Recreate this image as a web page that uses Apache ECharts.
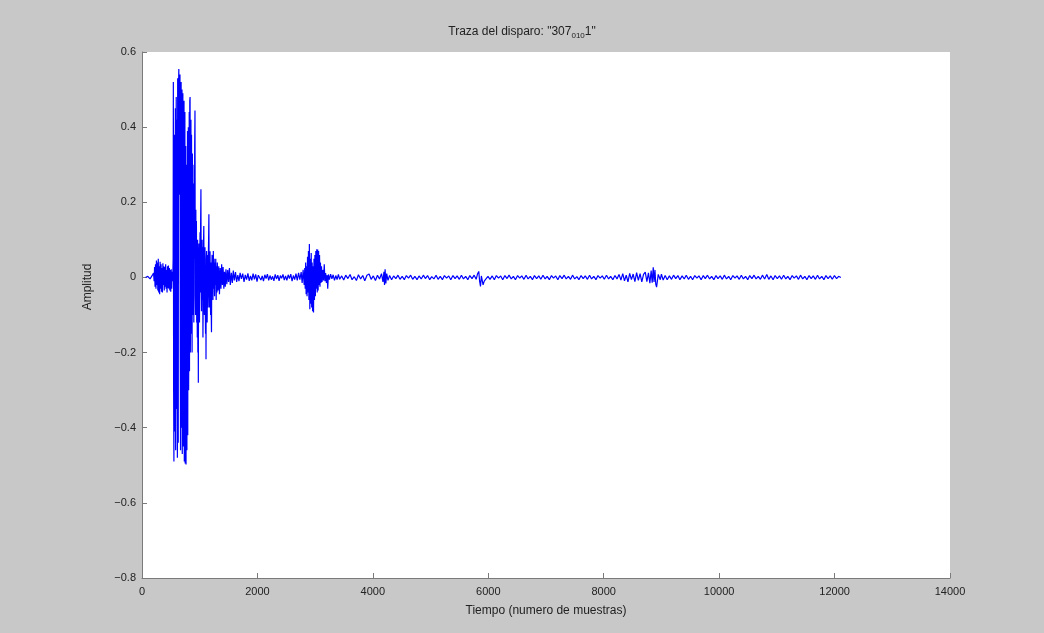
<!DOCTYPE html>
<html>
<head>
<meta charset="utf-8">
<script src="https://cdn.jsdelivr.net/npm/echarts@6/dist/echarts.min.js"></script>
<style>
html,body{margin:0;padding:0;background:#c8c8c8;}
#chart{width:1044px;height:633px;}
</style>
</head>
<body>
<div id="chart"></div>
<script>
// Tick settings
const xTicks = [0, 2000, 4000, 6000, 8000, 10000, 12000, 14000];
const yTicks = [-0.8, -0.6, -0.4, -0.2, 0, 0.2, 0.4, 0.6];

// Trace segments: [sample index, amplitude]
const preEvent = [
  [60, 0.0], [100, 0.003], [140, -0.004], [180, 0.006], [200, 0.012], [210, -0.01],
  [218, 0.028], [226, -0.025], [234, 0.035], [242, -0.03], [250, 0.045], [258, -0.02],
  [266, 0.04], [274, -0.035], [282, 0.05], [290, -0.04], [298, 0.03], [306, -0.045],
  [314, 0.042], [322, -0.03], [330, 0.035], [338, -0.038], [346, 0.025], [354, -0.04],
  [362, 0.038], [370, -0.02], [378, 0.03], [386, -0.035], [394, 0.028], [402, -0.025],
  [410, 0.035], [418, -0.03], [426, 0.02], [434, -0.04], [442, 0.03], [450, -0.028],
  [458, 0.032], [466, -0.03], [474, 0.025], [482, -0.035], [490, 0.02], [498, -0.038],
  [506, 0.022], [514, -0.03], [522, 0.015], [530, -0.01], [536, 0.02]
];
const firstArrival = [
  [540, 0.05], [543, 0.52], [548, -0.3], [553, -0.49], [558, 0.2], [563, 0.38],
  [568, -0.41], [573, -0.2], [578, 0.45], [583, -0.46], [588, 0.1], [593, 0.48],
  [598, -0.35], [603, -0.25], [608, 0.42], [613, -0.48], [618, 0.53], [623, -0.1],
  [628, -0.44], [633, 0.5], [638, 0.555], [643, 0.3], [648, 0.22], [653, 0.5],
  [658, 0.54], [663, -0.2], [668, -0.46], [673, 0.35], [678, 0.52], [683, -0.4],
  [688, -0.3], [693, 0.5], [698, -0.47], [703, 0.2], [708, 0.49], [713, -0.3],
  [718, -0.45], [723, 0.4], [728, 0.47], [733, -0.49], [738, 0.1], [743, 0.44],
  [748, -0.495], [753, -0.3], [758, 0.35], [763, -0.498], [768, 0.15], [773, 0.3],
  [778, -0.46], [783, -0.1], [788, 0.39], [793, -0.42], [798, 0.25], [803, 0.4],
  [808, -0.3], [813, -0.1], [818, 0.44], [823, -0.25], [828, 0.47], [833, 0.48],
  [838, -0.2], [843, 0.1], [848, 0.42], [853, -0.15], [858, 0.38], [863, -0.05],
  [868, -0.2], [873, 0.33], [878, -0.1], [883, 0.3], [888, -0.08], [893, 0.2],
  [898, -0.12], [903, 0.25], [908, 0.05], [913, 0.35], [918, 0.444], [923, -0.05],
  [928, -0.1], [933, 0.18], [938, -0.06], [943, 0.15], [948, -0.12], [953, 0.04],
  [958, -0.16], [963, 0.1], [968, -0.2], [973, -0.1], [976, -0.28], [981, 0.05],
  [986, 0.09], [991, -0.08], [996, -0.12], [1001, 0.06], [1006, 0.12], [1011, -0.04],
  [1016, 0.15], [1021, 0.235], [1026, -0.02], [1031, -0.09], [1036, 0.05], [1041, 0.1],
  [1046, -0.06], [1051, 0.08], [1056, -0.16], [1061, -0.05], [1066, 0.09], [1071, 0.137],
  [1076, -0.04], [1081, -0.1], [1086, 0.06], [1091, 0.08], [1096, -0.07], [1101, -0.15],
  [1106, 0.03], [1109, -0.218], [1114, 0.05], [1119, 0.07], [1124, -0.05], [1129, -0.12],
  [1134, 0.04], [1139, 0.06], [1144, -0.08], [1149, 0.05], [1154, 0.1], [1159, 0.168],
  [1164, -0.03], [1169, -0.08], [1174, 0.05], [1179, 0.07], [1184, -0.06], [1189, -0.1],
  [1194, 0.04], [1199, -0.09], [1204, -0.146], [1209, 0.02], [1214, 0.06], [1219, -0.04],
  [1224, 0.05], [1229, -0.06], [1236, 0.07], [1243, -0.03], [1250, 0.05], [1257, -0.05],
  [1264, 0.04], [1271, -0.02], [1278, 0.05], [1285, -0.06], [1292, 0.03], [1299, -0.04]
];
const coda = [
  [1305, 0.04], [1318, -0.035], [1330, 0.03], [1342, -0.045], [1355, 0.025], [1368, -0.03],
  [1380, 0.035], [1393, -0.02], [1405, 0.028], [1418, -0.03], [1430, 0.015], [1443, -0.025],
  [1455, 0.022], [1470, -0.018], [1485, 0.02], [1500, -0.012], [1515, 0.025], [1530, -0.02],
  [1548, 0.012], [1565, -0.015], [1582, 0.018], [1600, -0.008], [1620, 0.014], [1640, -0.012],
  [1660, 0.006], [1680, -0.01], [1700, 0.012], [1722, -0.004], [1745, 0.01], [1768, -0.012],
  [1790, 0.007], [1812, -0.006], [1835, 0.011], [1858, -0.009], [1880, 0.004], [1902, -0.008],
  [1925, 0.01], [1948, -0.005], [1970, 0.008], [1993, -0.011], [2015, 0.006], [2038, 0.009],
  [2060, -0.007], [2083, 0.004], [2105, -0.01], [2128, 0.007], [2150, -0.003], [2173, 0.009],
  [2195, -0.008], [2218, 0.005], [2240, -0.006], [2263, 0.003], [2285, -0.009], [2308, 0.008],
  [2330, -0.004], [2353, 0.006], [2375, -0.009], [2398, 0.005], [2420, -0.002], [2443, 0.008],
  [2465, -0.007], [2488, 0.004], [2510, -0.008], [2533, 0.007], [2555, -0.003], [2578, 0.009],
  [2600, -0.01], [2623, 0.005], [2645, -0.006], [2668, 0.01], [2690, -0.008], [2713, 0.012],
  [2735, -0.006], [2758, 0.014], [2775, -0.015], [2792, 0.02], [2810, -0.02]
];
const secondArrival = [
  [2820, 0.025], [2828, -0.03], [2836, 0.04], [2844, -0.045], [2852, 0.03], [2860, -0.05],
  [2868, 0.055], [2876, -0.04], [2884, 0.07], [2892, -0.06], [2900, 0.089], [2908, -0.085],
  [2916, 0.05], [2924, -0.07], [2932, 0.065], [2940, -0.08], [2948, 0.04], [2956, -0.09],
  [2964, 0.03], [2972, -0.093], [2980, 0.05], [2988, -0.06], [2996, 0.06], [3004, -0.05],
  [3012, 0.07], [3020, -0.03], [3028, 0.075], [3036, -0.04], [3044, 0.074], [3052, -0.035],
  [3060, 0.07], [3068, -0.02], [3076, 0.06], [3084, -0.025], [3092, 0.04], [3100, -0.015],
  [3110, 0.03], [3120, -0.012], [3132, 0.02], [3145, -0.008], [3158, 0.035], [3170, -0.01],
  [3182, 0.012], [3195, -0.015], [3208, 0.006], [3218, -0.03], [3230, 0.008], [3248, -0.006],
  [3268, 0.009], [3290, -0.004], [3312, 0.007], [3335, -0.008], [3358, 0.005], [3380, -0.006],
  [3403, 0.008], [3425, -0.005]
];
const tail = [
  [3460, 0.004], [3495, -0.007], [3530, 0.006], [3568, -0.003], [3605, 0.008], [3640, -0.006],
  [3678, 0.002], [3715, -0.008], [3750, 0.007], [3788, -0.004], [3825, 0.005], [3860, -0.009],
  [3898, 0.006], [3935, 0.009], [3970, -0.005], [4008, 0.004], [4045, -0.008], [4080, 0.006],
  [4115, -0.004], [4150, 0.01], [4175, -0.012], [4192, 0.015], [4202, -0.02], [4212, 0.022],
  [4225, -0.016], [4240, 0.01], [4262, -0.008], [4290, 0.005], [4325, -0.006], [4360, 0.004],
  [4398, -0.003], [4435, 0.006], [4470, -0.005], [4508, 0.003], [4545, -0.006], [4580, 0.005],
  [4618, -0.002], [4655, 0.006], [4690, -0.005], [4728, 0.003], [4765, -0.006], [4800, 0.004],
  [4838, -0.004], [4875, 0.006], [4910, -0.003], [4948, 0.005], [4985, -0.006], [5020, 0.002],
  [5058, -0.004], [5095, 0.006], [5130, -0.005], [5168, 0.003], [5205, -0.006], [5240, 0.005],
  [5278, -0.002], [5315, 0.004], [5350, -0.006], [5388, 0.005], [5425, -0.003], [5460, 0.004],
  [5498, -0.005], [5535, 0.006], [5570, -0.004], [5608, 0.003], [5645, -0.006], [5680, 0.005],
  [5718, -0.003], [5755, 0.006], [5790, -0.005], [5815, 0.01], [5835, 0.016], [5850, -0.01],
  [5865, -0.024], [5880, 0.004], [5895, 0.008], [5910, -0.02], [5930, -0.01], [5960, -0.004],
  [5995, 0.003], [6030, -0.005], [6068, 0.004], [6105, -0.006], [6140, 0.005], [6178, -0.002],
  [6215, 0.004], [6250, -0.006], [6288, 0.005], [6325, -0.003], [6360, 0.006], [6398, -0.004],
  [6435, 0.003], [6470, -0.006], [6508, 0.005], [6545, -0.002], [6580, 0.004], [6618, -0.005],
  [6655, 0.006], [6690, -0.004], [6728, 0.003], [6765, -0.006], [6800, 0.005], [6838, -0.003],
  [6875, 0.004], [6910, -0.005], [6948, 0.006], [6985, -0.004], [7020, 0.003], [7058, -0.006],
  [7095, 0.005], [7130, -0.002], [7168, 0.004], [7205, -0.006], [7240, 0.005], [7278, -0.003],
  [7315, 0.006], [7350, -0.004], [7388, 0.003], [7425, -0.005], [7460, 0.006], [7498, -0.004],
  [7535, 0.002], [7570, -0.006], [7608, 0.005], [7645, -0.003], [7680, 0.004], [7718, -0.005],
  [7755, 0.006], [7790, -0.004], [7828, 0.003], [7865, -0.006], [7900, 0.005], [7938, -0.002],
  [7975, 0.004], [8010, -0.005], [8048, 0.006], [8085, -0.004], [8120, 0.003], [8158, -0.006],
  [8195, 0.005], [8230, -0.004], [8265, 0.008], [8298, -0.007], [8330, 0.01], [8360, -0.009],
  [8390, 0.006], [8420, -0.012], [8450, 0.011], [8480, -0.006], [8510, 0.009], [8540, -0.011],
  [8570, 0.013], [8600, -0.008], [8630, 0.01], [8660, -0.012], [8690, 0.008], [8720, 0.014],
  [8748, -0.011], [8775, 0.012], [8800, -0.015], [8822, 0.018], [8840, -0.014], [8858, 0.027],
  [8872, -0.012], [8888, 0.02], [8902, -0.018], [8916, -0.026], [8930, -0.031], [8945, 0.008],
  [8962, 0.012], [8980, -0.006], [9000, 0.009], [9030, -0.007], [9065, 0.005], [9100, -0.006],
  [9138, 0.004], [9175, -0.005], [9210, 0.006], [9248, -0.003], [9285, 0.005], [9320, -0.006],
  [9358, 0.004], [9395, -0.004], [9430, 0.006], [9468, -0.005], [9505, 0.003], [9540, -0.006],
  [9578, 0.005], [9615, -0.002], [9650, 0.004], [9688, -0.006], [9725, 0.005], [9760, -0.003],
  [9798, 0.006], [9835, -0.004], [9870, 0.003], [9908, -0.006], [9945, 0.005], [9980, -0.003],
  [10018, 0.004], [10055, -0.005], [10090, 0.006], [10128, -0.004], [10165, 0.003], [10200, -0.006],
  [10238, 0.005], [10275, -0.002], [10310, 0.004], [10348, -0.005], [10385, 0.006], [10420, -0.004],
  [10458, 0.003], [10495, -0.006], [10530, 0.005], [10568, -0.003], [10605, 0.006], [10640, -0.004],
  [10678, 0.003], [10715, -0.005], [10750, 0.006], [10788, -0.004], [10825, 0.008], [10860, -0.005],
  [10898, 0.004], [10935, -0.006], [10970, 0.005], [11008, -0.003], [11045, 0.004], [11080, -0.005],
  [11118, 0.006], [11155, -0.004], [11190, 0.003], [11228, -0.006], [11265, 0.005], [11300, -0.002],
  [11338, 0.004], [11375, -0.005], [11410, 0.006], [11448, -0.004], [11485, 0.003], [11520, -0.006],
  [11558, 0.005], [11595, -0.003], [11630, 0.004], [11668, -0.005], [11705, 0.006], [11740, -0.004],
  [11778, 0.003], [11815, -0.006], [11850, 0.005], [11888, -0.003], [11925, 0.004], [11960, -0.005],
  [11998, 0.005], [12035, -0.003], [12070, 0.003], [12110, 0.0]
];

const traceData = [].concat(preEvent, firstArrival, coda, secondArrival, tail);

const FONT = 'Liberation Sans, Arial, sans-serif';
const TXT = '#222';
const AXIS = '#7a7a7a';

const chart = echarts.init(document.getElementById('chart'), null, {renderer: 'canvas'});
chart.setOption({
  backgroundColor: '#c8c8c8',
  animation: false,
  title: {
    text: 'Traza del disparo: "307{sub|010}1"',
    left: 'center',
    top: 18,
    textStyle: {
      fontFamily: FONT, fontSize: 12, fontWeight: 'normal', color: TXT,
      rich: {
        sub: {fontFamily: FONT, fontSize: 8, color: TXT, padding: [9, 0, 0, 0]}
      }
    }
  },
  grid: {
    left: 142, right: 94, top: 52, bottom: 55,
    show: true, backgroundColor: '#ffffff', borderWidth: 0
  },
  xAxis: {
    type: 'value',
    min: xTicks[0], max: xTicks[xTicks.length - 1], interval: 2000,
    name: 'Tiempo (numero de muestras)',
    nameLocation: 'middle', nameGap: 27,
    nameTextStyle: {fontFamily: FONT, fontSize: 12, color: TXT},
    axisLine: {show: true, onZero: false, lineStyle: {color: AXIS, width: 1}},
    axisTick: {show: true, inside: true, length: 5, lineStyle: {color: AXIS}},
    axisLabel: {fontFamily: FONT, fontSize: 11, color: TXT, margin: 8, formatter: v => String(v)},
    splitLine: {show: false}
  },
  yAxis: {
    type: 'value',
    min: yTicks[0], max: yTicks[yTicks.length - 1], interval: 0.2,
    name: 'Amplitud',
    nameLocation: 'middle', nameGap: 48,
    nameTextStyle: {fontFamily: FONT, fontSize: 12, color: TXT, padding: [0, 0, 0, 56]},
    axisLine: {show: true, lineStyle: {color: AXIS, width: 1}},
    axisTick: {show: true, inside: true, length: 5, lineStyle: {color: AXIS}},
    axisLabel: {
      fontFamily: FONT, fontSize: 11, color: TXT, margin: 6,
      formatter: v => {
        const r = Math.round(v * 10) / 10;
        if (r === 0) return '0';
        return r < 0 ? '\u2212' + Math.abs(r).toFixed(1) : r.toFixed(1);
      }
    },
    splitLine: {show: false}
  },
  series: [{
    type: 'line',
    data: traceData,
    showSymbol: false,
    symbol: 'none',
    sampling: null,
    lineStyle: {color: '#0000ff', width: 1.2},
    itemStyle: {color: '#0000ff'}
  }]
});
</script>
</body>
</html>
